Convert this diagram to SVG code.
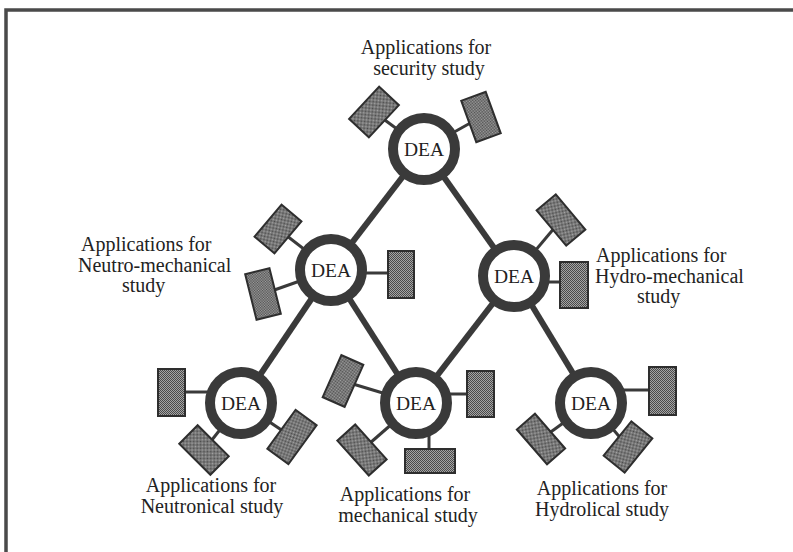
<svg xmlns="http://www.w3.org/2000/svg" width="793" height="552" viewBox="0 0 793 552">
  <defs>
    <!-- stippled fill for application boxes -->
    <pattern id="stipple" width="2" height="2" patternUnits="userSpaceOnUse">
      <rect width="2" height="2" fill="#a4a4a4"/>
      <rect width="1" height="1" fill="#4a4a4a"/>
      <rect x="1" y="1" width="1" height="1" fill="#4a4a4a"/>
    </pattern>
  </defs>
  <style>
    .frame { fill: none; stroke: #4a4a4a; stroke-width: 3.5; }
    .link { stroke: #3a3a3a; stroke-width: 6; stroke-linecap: butt; }
    .stub { stroke: #3a3a3a; stroke-width: 3; }
    .ring { fill: #ffffff; stroke: #3a3a3a; stroke-width: 10; }
    .app { fill: url(#stipple); stroke: #2e2e2e; stroke-width: 2; }
    .dea { font-family: "Liberation Serif", "Times New Roman", serif; font-size: 19.5px; fill: #222222; text-anchor: middle; }
    .lbl { font-family: "Liberation Serif", "Times New Roman", serif; font-size: 20px; fill: #222222; }
    .mid { text-anchor: middle; }
  </style>

  <rect width="793" height="552" fill="#ffffff"/>
  <path class="frame" d="M6,552 V10 H793"/>

  <!-- links between DEA nodes -->
  <g id="connectors">
    <line class="link" x1="424" y1="149" x2="331" y2="270"/>
    <line class="link" x1="424" y1="149" x2="514" y2="276"/>
    <line class="link" x1="331" y1="270" x2="241" y2="403"/>
    <line class="link" x1="331" y1="270" x2="416" y2="403"/>
    <line class="link" x1="514" y1="276" x2="416" y2="403"/>
    <line class="link" x1="514" y1="276" x2="591" y2="403"/>
  </g>

  <!-- security study -->
  <g id="dea-security">
    <line class="stub" x1="424" y1="149" x2="374" y2="112"/>
    <line class="stub" x1="424" y1="149" x2="481" y2="117"/>
    <rect class="app" x="-13.5" y="-22" width="27" height="44" transform="translate(374,112) rotate(43)"/>
    <rect class="app" x="-13" y="-22" width="26" height="44" transform="translate(481,117) rotate(-20)"/>
    <circle class="ring" cx="424" cy="149" r="31"/>
    <text class="dea" x="424" y="156">DEA</text>
    <text class="lbl mid" x="426" y="54">Applications  for</text>
    <text class="lbl mid" x="429" y="75">security study</text>
  </g>

  <!-- neutro-mechanical study -->
  <g id="dea-neutro-mechanical">
    <line class="stub" x1="331" y1="270" x2="278" y2="229"/>
    <line class="stub" x1="331" y1="270" x2="263" y2="294"/>
    <line class="stub" x1="331" y1="273" x2="401" y2="273"/>
    <rect class="app" x="-13" y="-21" width="26" height="42" transform="translate(278,229) rotate(40)"/>
    <rect class="app" x="-12.5" y="-23.5" width="25" height="47" transform="translate(263,294) rotate(-14)"/>
    <rect class="app" x="388" y="251" width="26" height="47"/>
    <circle class="ring" cx="331" cy="270" r="31"/>
    <text class="dea" x="331" y="277">DEA</text>
    <text class="lbl" x="81" y="251">Applications for</text>
    <text class="lbl" x="78" y="272">Neutro-mechanical</text>
    <text class="lbl" x="122" y="292">study</text>
  </g>

  <!-- hydro-mechanical study -->
  <g id="dea-hydro-mechanical">
    <line class="stub" x1="514" y1="276" x2="561" y2="220"/>
    <line class="stub" x1="514" y1="282" x2="574" y2="282"/>
    <rect class="app" x="-12.5" y="-23" width="25" height="46" transform="translate(561,220) rotate(-40)"/>
    <rect class="app" x="560" y="262" width="28" height="46"/>
    <circle class="ring" cx="514" cy="276" r="31"/>
    <text class="dea" x="514" y="283">DEA</text>
    <text class="lbl" x="596" y="262">Applications for</text>
    <text class="lbl" x="595" y="283">Hydro-mechanical</text>
    <text class="lbl" x="637" y="303">study</text>
  </g>

  <!-- neutronical study -->
  <g id="dea-neutronical">
    <line class="stub" x1="241" y1="392" x2="171" y2="392"/>
    <line class="stub" x1="241" y1="403" x2="204" y2="450"/>
    <line class="stub" x1="241" y1="403" x2="292" y2="437"/>
    <rect class="app" x="158" y="369" width="27" height="47"/>
    <rect class="app" x="-13" y="-22" width="26" height="44" transform="translate(204,450) rotate(-45)"/>
    <rect class="app" x="-13" y="-24" width="26" height="48" transform="translate(292,437) rotate(36)"/>
    <circle class="ring" cx="241" cy="403" r="31"/>
    <text class="dea" x="241" y="410">DEA</text>
    <text class="lbl mid" x="211" y="492">Applications for</text>
    <text class="lbl mid" x="212" y="513">Neutronical study</text>
  </g>

  <!-- mechanical study -->
  <g id="dea-mechanical">
    <line class="stub" x1="416" y1="403" x2="343" y2="381"/>
    <line class="stub" x1="416" y1="403" x2="362" y2="450"/>
    <line class="stub" x1="416" y1="394" x2="480" y2="394"/>
    <line class="stub" x1="429" y1="403" x2="429" y2="461"/>
    <rect class="app" x="-12" y="-23" width="24" height="46" transform="translate(343,381) rotate(24)"/>
    <rect class="app" x="-12" y="-23.5" width="24" height="47" transform="translate(362,450) rotate(-42)"/>
    <rect class="app" x="467" y="371" width="27" height="46"/>
    <rect class="app" x="405" y="449" width="50" height="24"/>
    <circle class="ring" cx="416" cy="403" r="31"/>
    <text class="dea" x="416" y="410">DEA</text>
    <text class="lbl mid" x="405" y="501">Applications for</text>
    <text class="lbl mid" x="408" y="522">mechanical study</text>
  </g>

  <!-- hydrolical study -->
  <g id="dea-hydrolical">
    <line class="stub" x1="591" y1="390" x2="662" y2="390"/>
    <line class="stub" x1="591" y1="403" x2="541" y2="439"/>
    <line class="stub" x1="591" y1="403" x2="628" y2="447"/>
    <rect class="app" x="649" y="367" width="27" height="48"/>
    <rect class="app" x="-12" y="-23" width="24" height="46" transform="translate(541,439) rotate(-41)"/>
    <rect class="app" x="-13.5" y="-22" width="27" height="44" transform="translate(628,447) rotate(39)"/>
    <circle class="ring" cx="591" cy="403" r="31"/>
    <text class="dea" x="591" y="410">DEA</text>
    <text class="lbl mid" x="602" y="495">Applications for</text>
    <text class="lbl mid" x="602" y="516">Hydrolical study</text>
  </g>
</svg>
